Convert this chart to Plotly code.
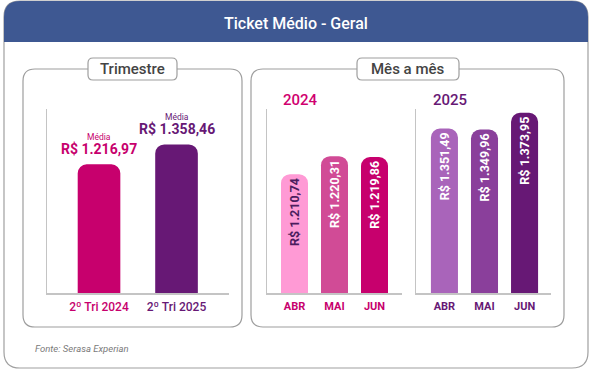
import plotly.graph_objects as go

W, H = 594, 370

# ---------------- data ----------------
title_text = "Ticket Médio - Geral"
tri_labels = ["2º Tri 2024", "2º Tri 2025"]
tri_values = [1216.97, 1358.46]
tri_text = ["R$ 1.216,97", "R$ 1.358,46"]
months = ["ABR", "MAI", "JUN"]
v2024 = [1210.74, 1220.31, 1219.86]
v2025 = [1351.49, 1349.96, 1373.95]
t2024 = ["R$ 1.210,74", "R$ 1.220,31", "R$ 1.219,86"]
t2025 = ["R$ 1.351,49", "R$ 1.349,96", "R$ 1.373,95"]
source_text = "Fonte: Serasa Experian"

# ---------------- styles ----------------
MAGENTA = "#C7006D"
PURPLE = "#671875"
tri_colors = [MAGENTA, PURPLE]
c2024 = ["#FF9AD5", "#D14B96", "#C7006D"]
c2025 = ["#A964BA", "#8A3F9B", "#671875"]
txt2024 = ["#4B1D5E", "white", "white"]
txt2025 = ["white", "white", "white"]
AX = "#C4C4C4"
BORDER = "#9E9E9E"
HEADER = "#3E5892"
FONT = "Roboto"


def fx(x):
    return x / W


def fy(y):
    return 1 - y / H


def P(x, y):
    return f"{fx(x):.5f},{fy(y):.5f}"


def rrect(x0, y0, x1, y1, r, top_only=False):
    if top_only:
        return (f"M{P(x0, y1)} L{P(x0, y0 + r)} Q{P(x0, y0)} {P(x0 + r, y0)} "
                f"L{P(x1 - r, y0)} Q{P(x1, y0)} {P(x1, y0 + r)} L{P(x1, y1)} Z")
    return (f"M{P(x0 + r, y0)} L{P(x1 - r, y0)} Q{P(x1, y0)} {P(x1, y0 + r)} "
            f"L{P(x1, y1 - r)} Q{P(x1, y1)} {P(x1 - r, y1)} L{P(x0 + r, y1)} "
            f"Q{P(x0, y1)} {P(x0, y1 - r)} L{P(x0, y0 + r)} Q{P(x0, y0)} {P(x0 + r, y0)} Z")


def shape(path, fill=None, line=None, width=1.2, layer="above"):
    d = dict(type="path", xref="paper", yref="paper", path=path, layer=layer,
             line=dict(color=line or "rgba(0,0,0,0)", width=width if line else 0))
    if fill:
        d["fillcolor"] = fill
    return d


fig = go.Figure()

fig.add_trace(go.Bar(
    x=tri_labels, y=tri_values, xaxis="x", yaxis="y", width=0.55,
    marker=dict(color=tri_colors, cornerradius=9, line=dict(width=0)),
    hoverinfo="skip", showlegend=False))

fig.add_trace(go.Bar(
    x=months, y=v2024, xaxis="x2", yaxis="y2", width=0.675,
    marker=dict(color=c2024, cornerradius=9, line=dict(width=0)),
    text=t2024, textposition="inside", insidetextanchor="end", textangle=-90,
    insidetextfont=dict(family=FONT, size=12.5, color=txt2024, weight="bold"),
    hoverinfo="skip", showlegend=False))

fig.add_trace(go.Bar(
    x=months, y=v2025, xaxis="x3", yaxis="y3", width=0.675,
    marker=dict(color=c2025, cornerradius=9, line=dict(width=0)),
    text=t2025, textposition="inside", insidetextanchor="end", textangle=-90,
    insidetextfont=dict(family=FONT, size=12.5, color=txt2025, weight="bold"),
    hoverinfo="skip", showlegend=False))

ydom = [fy(293), fy(109)]
yax = dict(domain=ydom, showline=True, linecolor=AX, linewidth=1.5,
           showgrid=False, zeroline=False, showticklabels=False, ticks="",
           fixedrange=True)

xbase = dict(showline=True, linecolor=AX, linewidth=1.5, showgrid=False,
             zeroline=False, ticks="", type="category", fixedrange=True,
             ticklabelstandoff=2)

annotations = []
for lab, val, txt, col in zip(tri_labels, tri_values, tri_text, tri_colors):
    annotations.append(dict(x=lab, y=val, xref="x", yref="y", text=txt,
                            showarrow=False, xanchor="center", yanchor="middle", yshift=15,
                            font=dict(family=FONT, size=14, color=col, weight="bold")))
    annotations.append(dict(x=lab, y=val, xref="x", yref="y", text="Média",
                            showarrow=False, xanchor="center", yanchor="middle", yshift=27,
                            font=dict(family=FONT, size=8.5, color=col)))


def pa(x, y, text, size, color, weight=500, xanchor="center", style="normal"):
    return dict(x=fx(x), y=fy(y), xref="paper", yref="paper", text=text,
                showarrow=False, xanchor=xanchor, yanchor="middle",
                font=dict(family=FONT, size=size, color=color, weight=weight, style=style))


annotations += [
    pa(296, 23, title_text, 16, "white"),
    pa(132.5, 69, "Trimestre", 15, "#444444"),
    pa(408, 69, "Mês a mês", 15, "#444444"),
    pa(281, 100, "2024", 15, "#D0006F", xanchor="left"),
    pa(431, 100, "2025", 15, PURPLE, xanchor="left"),
    pa(33, 348, source_text, 9.5, "#7A7A7A", weight=400, xanchor="left", style="italic"),
]

shapes = [
    shape(rrect(4, 1, 588, 368, 16), fill="white", line="#A0A0A0", width=1.2, layer="below"),
    shape(rrect(4, 1, 588, 42, 16, top_only=True), fill=HEADER, layer="below"),
    shape(rrect(23, 69, 242, 327, 12), line=BORDER, width=1.2),
    shape(rrect(251, 69, 564, 327, 12), line=BORDER, width=1.2),
    shape(rrect(88, 58, 177, 80, 5), fill="white", line=BORDER, width=1.2),
    shape(rrect(357, 58, 459, 80, 5), fill="white", line=BORDER, width=1.2),
]

tri_ticktext = [f"<span style='color:{c}'>{t}</span>" for t, c in zip(tri_labels, tri_colors)]

fig.update_layout(
    width=W, height=H, autosize=False,
    margin=dict(l=0, r=0, t=0, b=0, pad=0),
    paper_bgcolor="white", plot_bgcolor="rgba(0,0,0,0)",
    font=dict(family=FONT),
    xaxis=dict(xbase, domain=[fx(47), fx(229)], range=[-0.671, 1.677],
               tickvals=tri_labels, ticktext=tri_ticktext,
               tickfont=dict(family=FONT, size=12, weight=500)),
    yaxis=dict(yax, range=[302, 1610]),
    xaxis2=dict(xbase, domain=[fx(267), fx(402)], range=[-0.6875, 2.6875], anchor="y2",
                tickfont=dict(family=FONT, size=11, color="#C7006D", weight="bold")),
    yaxis2=dict(yax, range=[1147.5, 1245.4], anchor="x2"),
    xaxis3=dict(xbase, domain=[fx(416), fx(551)], range=[-0.71, 2.66], anchor="y3",
                tickfont=dict(family=FONT, size=11, color=PURPLE, weight="bold")),
    yaxis3=dict(yax, range=[1116.5, 1379.4], anchor="x3"),
    shapes=shapes, annotations=annotations,
)

fig.write_html("out.html", config={"displayModeBar": False, "staticPlot": True},
               post_script="document.body.style.margin='0';document.body.style.overflow='hidden';")
